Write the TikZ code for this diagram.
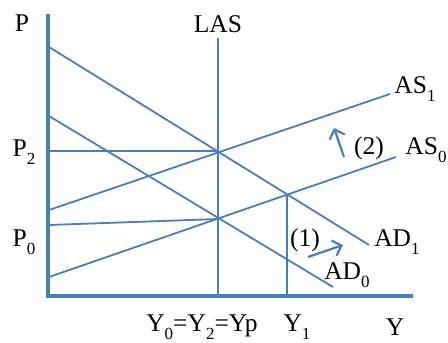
\documentclass[tikz,border=0pt]{standalone}
\usepackage{fontspec}
\setmainfont{Liberation Serif}
\usetikzlibrary{arrows.meta}
\definecolor{lineblue}{RGB}{74,126,187}
\newcommand{\lowsub}[1]{\raisebox{-0.3em}{\fontsize{17}{17}\selectfont #1}}
\tikzset{
  curve/.style={draw=lineblue, line width=1.8pt},
  axis/.style={draw=lineblue, line width=3.2pt},
  lbl/.style={inner sep=0pt, font=\fontsize{25.5}{26}\selectfont},
  shiftarrow/.style={draw=lineblue, line width=2.2pt, -{Straight Barb[length=8pt,width=16pt]}}
}
\begin{document}
\begin{tikzpicture}[x=1pt,y=-1pt]
\useasboundingbox (0,0) rectangle (448,343);
% key coordinates
\coordinate (O) at (48,296);
\coordinate (Ytop) at (48,14);
\coordinate (Xend) at (413,296);
\coordinate (LAStop) at (218,38);
\coordinate (LASbot) at (218,296);
\coordinate (AD1a) at (49,47);
\coordinate (AD1b) at (369,245);
\coordinate (AD0a) at (49,116);
\coordinate (AD0b) at (333,287);
\coordinate (AS1a) at (49,210);
\coordinate (AS1b) at (390,94);
\coordinate (AS0a) at (49,277);
\coordinate (AS0b) at (396,157);
\coordinate (E2) at (218,151);
\coordinate (P2a) at (49,151);
\coordinate (P0a) at (49,225);
\coordinate (E0) at (218,219);
\coordinate (E1) at (287,195);
\coordinate (Y1b) at (287,296);
\coordinate (A2s) at (344,157);
\coordinate (A2e) at (334,128);
\coordinate (A1s) at (308,257);
\coordinate (A1e) at (343,245);
% curves
\draw[curve] (AD1a) -- (AD1b);
\draw[curve] (AD0a) -- (AD0b);
\draw[curve] (AS1a) -- (AS1b);
\draw[curve] (AS0a) -- (AS0b);
\draw[curve] (LAStop) -- (LASbot);
\draw[draw=lineblue, line width=2.8pt] (P2a) -- (E2);
\draw[curve] (P0a) -- (E0);
\draw[draw=lineblue, line width=1.4pt] (E1) -- (Y1b);
% axes
\draw[axis] (Ytop) -- (O) -- (Xend);
% shift arrows
\draw[shiftarrow] (A2s) -- (A2e);
\draw[shiftarrow] (A1s) -- (A1e);
% labels
\node[lbl] (lP) at (22,23) {P};
\node[lbl] (lLAS) at (218,24) {LAS};
\node[lbl] (lP2) at (24,152) {P\lowsub{2}};
\node[lbl] (lP0) at (24,242) {P\lowsub{0}};
\node[lbl] (lAS1) at (415,89) {AS\lowsub{1}};
\node[lbl] (lAS0) at (426,150) {AS\lowsub{0}};
\node[lbl] (l2) at (369,148) {(2)};
\node[lbl] (lAD1) at (397,242) {AD\lowsub{1}};
\node[lbl] (lAD0) at (347,275) {AD\lowsub{0}};
\node[lbl] (l1) at (305,240) {(1)};
\node[lbl] (lY0) at (202,327) {Y\lowsub{0}=Y\lowsub{2}=Yp};
\node[lbl] (lY1) at (297,327) {Y\lowsub{1}};
\node[lbl] (lY) at (395,327) {Y};
\end{tikzpicture}
\end{document}
